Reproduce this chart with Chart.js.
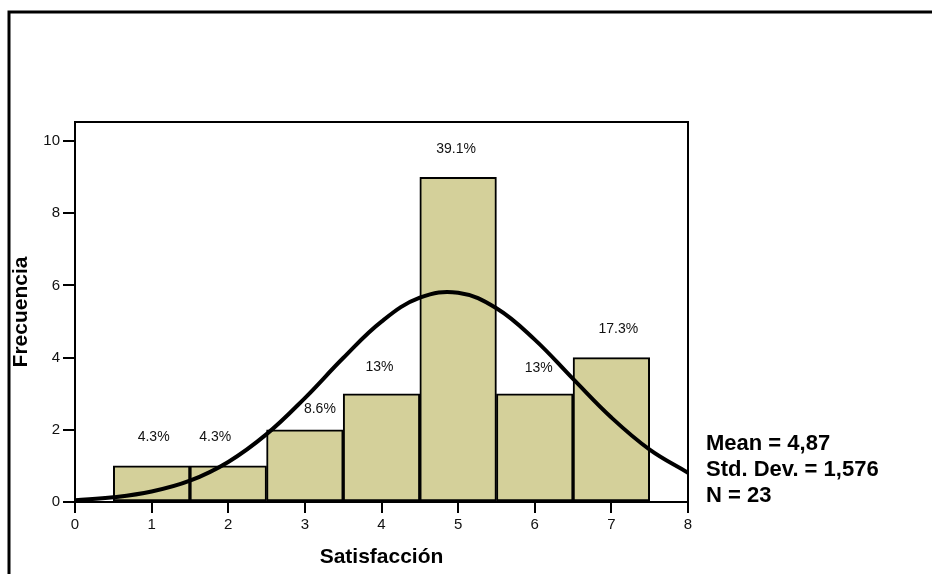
<!DOCTYPE html>
<html>
<head>
<meta charset="utf-8">
<script src="https://cdn.jsdelivr.net/npm/chart.js@4.4.1/dist/chart.umd.min.js"></script>
<style>
  html, body { margin: 0; padding: 0; background: #fff; }
  #wrap { width: 932px; height: 574px; }
</style>
</head>
<body>
<div id="wrap"><canvas id="hist" width="932" height="574"></canvas></div>
<script>
// histogram bins (midpoints) and counts
const binMids = [1, 2, 3, 4, 5, 6, 7];
const counts = [1, 1, 2, 3, 9, 3, 4];
const percentLabels = ['4.3%', '4.3%', '8.6%', '13%', '39.1%', '13%', '17.3%'];

// normal curve
const curveX = [0, 0.5, 1, 1.5, 2, 2.5, 3, 3.5, 4, 4.5, 5, 5.5, 6, 6.5, 7, 7.5, 8];
const curveY = [0.05, 0.13, 0.29, 0.59, 1.11, 1.88, 2.88, 3.99, 5.0, 5.66, 5.8, 5.37, 4.5, 3.41, 2.34, 1.45, 0.81];

const xTicks = [0, 1, 2, 3, 4, 5, 6, 7, 8];
const yTicks = [0, 2, 4, 6, 8, 10];
const statsLines = ['Mean = 4,87', 'Std. Dev. = 1,576', 'N = 23'];

const FONT = "Arial, 'Liberation Sans', sans-serif";

// label nudges (px) as placed in the original
const labelDx = [2, -13, 15, -2, -2, 4, 7];
const labelDy = [-29, -29, -21, -27, -28, -26, -29];

const decorPlugin = {
    id: 'decor',
    beforeDraw(chart) {
        const ctx = chart.ctx;
        ctx.save();
        ctx.strokeStyle = '#000';
        ctx.lineWidth = 3;
        ctx.beginPath();
        ctx.moveTo(9, 574);
        ctx.lineTo(9, 12);
        ctx.lineTo(932, 12);
        ctx.stroke();
        ctx.restore();
    },
    afterDraw(chart) {
        const ctx = chart.ctx;
        const a = chart.chartArea;
        const xs = chart.scales.x, ys = chart.scales.y;
        ctx.save();
        // frame top + right
        ctx.strokeStyle = '#000';
        ctx.lineWidth = 2;
        ctx.beginPath();
        ctx.moveTo(a.left, a.top);
        ctx.lineTo(a.right, a.top);
        ctx.lineTo(a.right, a.bottom);
        ctx.stroke();

        // percent labels
        ctx.fillStyle = '#111';
        ctx.font = '14px ' + FONT;
        ctx.textAlign = 'center';
        ctx.textBaseline = 'middle';
        binMids.forEach((m, i) => {
            const px = xs.getPixelForValue(m) + labelDx[i];
            const py = ys.getPixelForValue(counts[i]) + labelDy[i];
            ctx.fillText(percentLabels[i], px, py);
        });

        // stats block
        ctx.font = 'bold 22px ' + FONT;
        ctx.textAlign = 'left';
        ctx.fillStyle = '#000';
        statsLines.forEach((t, i) => {
            ctx.fillText(t, a.right + 18, 444 + i * 26);
        });
        ctx.restore();
    }
};

new Chart(document.getElementById('hist').getContext('2d'), {
    data: {
        datasets: [
            {
                type: 'line',
                data: curveX.map((x, i) => ({ x: x, y: curveY[i] })),
                borderColor: '#000',
                borderWidth: 4,
                pointRadius: 0,
                tension: 0.4,
                fill: false,
                order: 0,
            },
            {
                type: 'bar',
                data: binMids.map((m, i) => ({ x: m, y: counts[i] })),
                backgroundColor: '#d4d09a',
                borderColor: '#000',
                borderWidth: 2,
                borderSkipped: false,
                barPercentage: 1,
                categoryPercentage: 1,
                order: 1,
            }
        ]
    },
    options: {
        responsive: false,
        animation: false,
        layout: {
            padding: { top: 122, right: 244, left: 0, bottom: 0 }
        },
        plugins: {
            legend: { display: false },
            tooltip: { enabled: false },
        },
        scales: {
            x: {
                type: 'linear',
                min: 0,
                max: 8,
                offset: false,
                afterFit: (s) => { s.height = 72; },
                afterBuildTicks: (s) => { s.ticks = xTicks.map(v => ({ value: v })); },
                grid: {
                    display: true,
                    offset: false,
                    drawOnChartArea: false,
                    drawTicks: true,
                    tickLength: 11,
                    color: '#000',
                    lineWidth: 2,
                },
                border: { display: true, color: '#000', width: 2 },
                ticks: {
                    color: '#111',
                    font: { family: FONT, size: 15 },
                    padding: 3,
                    maxRotation: 0,
                },
                title: {
                    display: true,
                    text: 'Satisfacción',
                    color: '#000',
                    font: { family: FONT, size: 21, weight: 'bold' },
                    padding: { top: 0, bottom: 4 },
                }
            },
            y: {
                type: 'linear',
                min: 0,
                max: 10.53,
                afterFit: (s) => { s.width = 75; },
                afterBuildTicks: (s) => { s.ticks = yTicks.map(v => ({ value: v })); },
                grid: {
                    display: true,
                    drawOnChartArea: false,
                    drawTicks: true,
                    tickLength: 12,
                    color: '#000',
                    lineWidth: 2,
                },
                border: { display: true, color: '#000', width: 2 },
                ticks: {
                    color: '#111',
                    font: { family: FONT, size: 15 },
                    padding: 3,
                },
                title: {
                    display: true,
                    text: 'Frecuencia',
                    color: '#000',
                    font: { family: FONT, size: 21, weight: 'bold' },
                    padding: { top: 9, bottom: 0 },
                }
            }
        }
    },
    plugins: [decorPlugin]
});
</script>
</body>
</html>
